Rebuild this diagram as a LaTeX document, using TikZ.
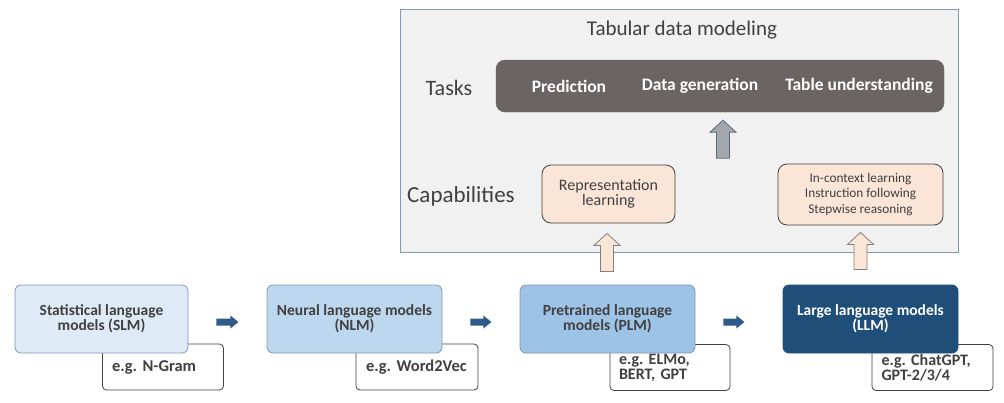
\documentclass[tikz,border=0pt]{standalone}
\usepackage{fontspec}
\setmainfont{Carlito}
\usepackage{tikz}
\usetikzlibrary{calc}
\usepackage{xcolor}

\definecolor{panelbg}{HTML}{F1F1F1}
\definecolor{panelline}{HTML}{8497B0}
\definecolor{taskbg}{HTML}{6B6464}
\definecolor{peach}{HTML}{FBE5D6}
\definecolor{txt}{HTML}{404040}
\definecolor{slmc}{HTML}{DEEBF7}
\definecolor{nlmc}{HTML}{BDD7EE}
\definecolor{plmc}{HTML}{9DC3E6}
\definecolor{llmc}{HTML}{1F4E79}
\definecolor{arrowblue}{HTML}{2F5B8A}
\definecolor{grayarrow}{HTML}{A2A6AD}

% block arrows between two points
\newcommand{\blockup}[3]{%
  \draw[#1] let \p1=(#2), \p2=(#3) in
    (\x1-6.5pt,\y1) -- (\x1-6.5pt,\y2-12pt) -- (\x1-13pt,\y2-12pt) -- (\x1,\y2)
    -- (\x1+13pt,\y2-12pt) -- (\x1+6.5pt,\y2-12pt) -- (\x1+6.5pt,\y1) -- cycle;}
\newcommand{\blockright}[2]{%
  \fill[arrowblue] let \p1=(#1), \p2=(#2) in
    (\x1,\y1+3.5pt) -- (\x2-8pt,\y1+3.5pt) -- (\x2-8pt,\y1+6.5pt) -- (\x2,\y1)
    -- (\x2-8pt,\y1-6.5pt) -- (\x2-8pt,\y1-3.5pt) -- (\x1,\y1-3.5pt) -- cycle;}

\tikzset{
  model/.style={draw=panelline, rounded corners=6pt, minimum width=175pt, minimum height=68pt,
    align=center, text=txt, font=\fontsize{15.5}{15}\selectfont\bfseries, line width=0.8pt},
  example/.style={draw=txt, fill=white, rounded corners=4pt, minimum width=121pt, minimum height=46pt,
    text width=102pt, align=left, text=txt, font=\fontsize{16.5}{15}\selectfont\bfseries, line width=0.8pt},
  capbox/.style={draw=txt, fill=peach, rounded corners=9pt, align=center, text=txt,
    font=\fontsize{13.3}{15.5}\selectfont, line width=0.8pt},
  sidelabel/.style={text=txt},
  taskitem/.style={text=white, font=\fontsize{17.5}{19}\selectfont\bfseries},
}

\begin{document}
\begin{tikzpicture}[x=1pt, y=-1pt]
  \useasboundingbox (0,0) rectangle (1004,402);

  % upper panel
  \draw[panelline, fill=panelbg, line width=0.9pt] (400,9) rectangle (958,252);
  \node[text=txt, font=\fontsize{21}{23}\selectfont] (title) at (682,30) {Tabular data modeling};

  \node[draw=black!60, fill=taskbg, rounded corners=9pt, minimum width=448pt, minimum height=52pt] (tasks) at (720,86) {};
  \node[taskitem] (pred) at (569,86) {Prediction};
  \node[taskitem] (gen) at (700,86) {Data generation};
  \node[taskitem] (und) at (859,86) {Table understanding};
  \node[sidelabel, font=\fontsize{22}{24}\selectfont] (tasklbl) at (449,88) {Tasks};

  \node[sidelabel, font=\fontsize{23}{25}\selectfont] (caplbl) at (461,196) {Capabilities};
  \node[capbox, minimum width=133pt, minimum height=58pt, font=\fontsize{16}{15}\selectfont] (rep) at (608.5,194) {Representation\\learning};
  \node[capbox, minimum width=165pt, minimum height=61pt] (icl) at (860.5,194.5)
    {In-context learning\\Instruction following\\Stepwise reasoning};

  % model boxes
  \node[example] (slmex) at (163,367) {e.g.\ N-Gram};
  \node[example, minimum width=122pt] (nlmex) at (417,367) {e.g.\ Word2Vec};
  \node[example, minimum width=120pt, font=\fontsize{16}{15}\selectfont\bfseries] (plmex) at (670,367.5) {e.g.\ ELMo,\\BERT, GPT};
  \node[example, font=\fontsize{16}{15}\selectfont\bfseries] (llmex) at (932.5,367.5) {e.g.\ ChatGPT,\\GPT-2/3/4};

  \node[model, fill=slmc, minimum width=173pt] (slm) at (101.5,319) {Statistical language\\models (SLM)};
  \node[model, fill=nlmc] (nlm) at (354.5,319) {Neural language models\\(NLM)};
  \node[model, fill=plmc] (plm) at (607.5,319) {Pretrained language\\models (PLM)};
  \node[model, fill=llmc, draw=llmc, text=white] (llm) at (870.5,319) {Large language models\\(LLM)};

  % arrows
  \blockright{$(slm.east)+(28,3)$}{$(slm.east)+(50,3)$}
  \blockright{$(nlm.east)+(28,3)$}{$(nlm.east)+(49,3)$}
  \blockright{$(plm.east)+(28,3)$}{$(plm.east)+(49,3)$}

  \blockup{fill=grayarrow, draw=panelline!70!black, line width=0.8pt}{$(tasks.south)+(3,46)$}{$(tasks.south)+(3,8)$}
  \blockup{fill=peach, draw=black!50, line width=0.8pt}{$(rep.south)+(-1.5,48)$}{$(rep.south)+(-1.5,10)$}
  \blockup{fill=peach, draw=black!50, line width=0.8pt}{$(icl.south)+(0,44)$}{$(icl.south)+(0,7)$}
\end{tikzpicture}
\end{document}
